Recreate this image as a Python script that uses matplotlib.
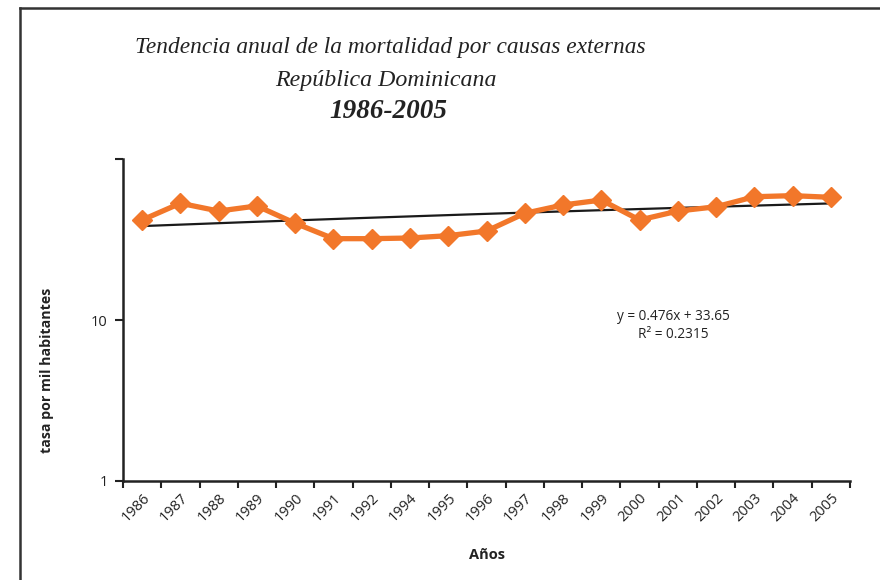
import numpy as np
import matplotlib
matplotlib.use("Agg")
import matplotlib.pyplot as plt
from matplotlib.lines import Line2D

years = ["1986", "1987", "1988", "1989", "1990", "1991", "1992", "1994", "1995", "1996",
         "1997", "1998", "1999", "2000", "2001", "2002", "2003", "2004", "2005"]
tasa = [41.8, 53.1, 47.5, 51.1, 39.9, 32.0, 32.0, 32.3, 33.4, 35.7,
        46.0, 51.8, 55.6, 41.8, 47.5, 50.5, 58.3, 59.2, 57.8]
y_ticks = [1, 10, 100]
y_tick_labels = ["1", "10", ""]

orange = "#F2772A"

fig = plt.figure(figsize=(8.8, 5.8), dpi=100)
ax = fig.add_axes([123/880, 1-481/580, (850-123)/880, (481-159)/580])

x = np.arange(len(years))
ax.plot(x, tasa, color=orange, lw=3.8, marker="D", ms=10, mec=orange, mfc=orange, zorder=3)

# linear trend line fitted from the data
coef = np.polyfit(x + 1, tasa, 1)
xt = np.linspace(0, len(years) - 1, 200)
ax.plot(xt, np.polyval(coef, xt + 1), color="#1a1a1a", lw=1.6, zorder=2)

ax.set_yscale("log")
ax.set_ylim(1, 100)
ax.set_xlim(-0.5, len(years) - 0.5)
ax.set_yticks(y_ticks)
ax.set_yticklabels(y_tick_labels)
ax.yaxis.set_minor_locator(matplotlib.ticker.NullLocator())

ax.set_xticks(np.arange(-0.5, len(years), 1.0))
ax.set_xticklabels([])
ax.set_xticks(x, minor=True)
ax.set_xticklabels(years, minor=True, rotation=45, ha="right", va="top",
                   rotation_mode="anchor", fontsize=10.5, family="Open Sans", color="#222222")
ax.tick_params(axis="x", which="minor", length=0, pad=7)
ax.tick_params(axis="x", which="major", direction="out", length=5, width=1.5, color="#222222")
ax.tick_params(axis="y", which="major", direction="out", length=6, width=1.5, color="#222222",
               labelsize=10.5, labelcolor="#222222", pad=5)
for lab in ax.get_yticklabels():
    lab.set_family("Open Sans")

for s in ["top", "right"]:
    ax.spines[s].set_visible(False)
for s in ["left", "bottom"]:
    ax.spines[s].set_linewidth(1.8)
    ax.spines[s].set_color("#222222")

# titles
fig.text(390/880, 1-48/580, "Tendencia anual de la mortalidad por causas externas",
         ha="center", va="center", fontsize=16.8, style="italic", family="Liberation Serif", color="#222222")
fig.text(386/880, 1-80/580, "República Dominicana",
         ha="center", va="center", fontsize=17.2, style="italic", family="Liberation Serif", color="#222222")
fig.text(388/880, 1-111/580, "1986-2005",
         ha="center", va="center", fontsize=19.5, style="italic", weight="bold",
         family="Liberation Serif", color="#222222")

fig.text(47/880, 1-370/580, "tasa por mil habitantes", rotation=90, ha="center", va="center",
         fontsize=10.2, weight="bold", family="Open Sans", color="#222222")
fig.text(487/880, 1-555/580, "Años", ha="center", va="center",
         fontsize=10.5, weight="bold", family="Open Sans", color="#222222")

fig.text(673/880, 1-316/580, "y = 0.476x + 33.65", ha="center", va="center",
         fontsize=9.8, family="Open Sans", color="#222222")
fig.text(673/880, 1-335/580, "R² = 0.2315", ha="center", va="center",
         fontsize=9.8, family="Open Sans", color="#222222")

# outer frame lines
fig.add_artist(Line2D([20/880, 20/880], [0, 1-8/580], transform=fig.transFigure, color="#333333", lw=1.8))
fig.add_artist(Line2D([20/880, 1], [1-8/580, 1-8/580], transform=fig.transFigure, color="#333333", lw=1.8))

fig.savefig("out.png", dpi=100)
